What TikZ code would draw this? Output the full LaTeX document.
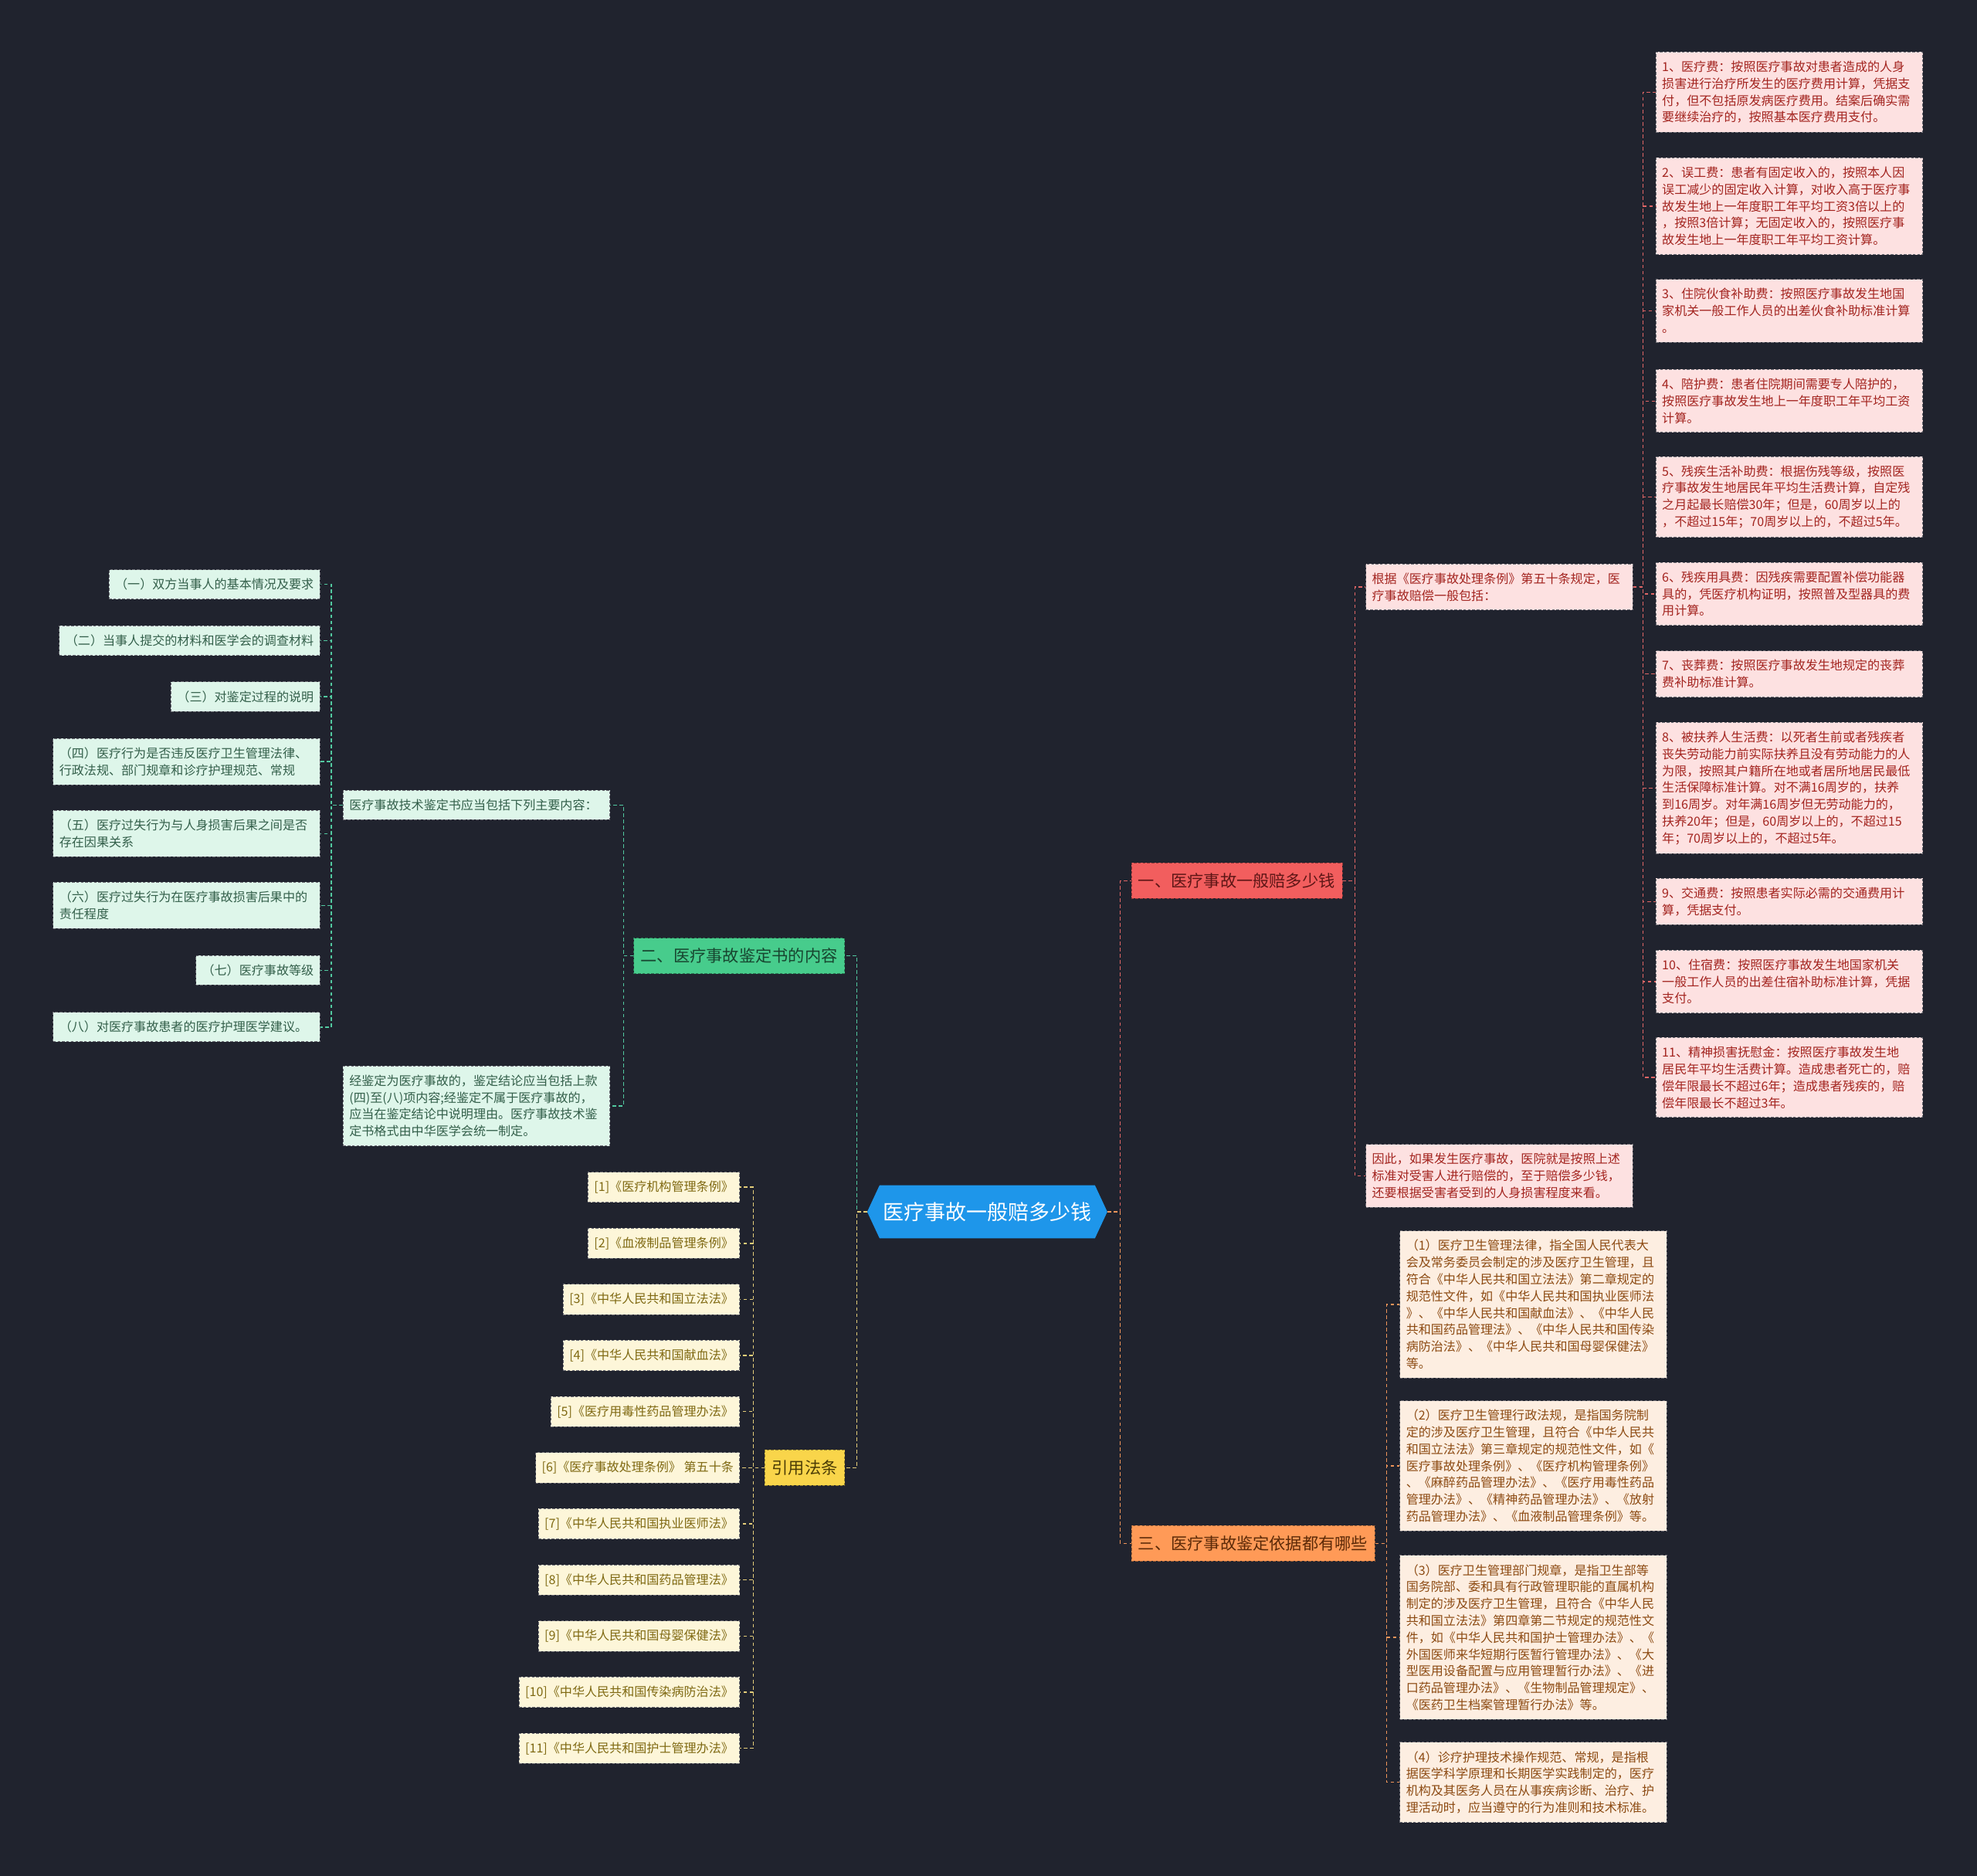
\documentclass[tikz,border=0pt]{standalone}
\usepackage{fontspec}
\setmainfont{Noto Sans CJK SC}
\usetikzlibrary{shapes.symbols}

\definecolor{bgdark}{HTML}{20232E}
\definecolor{rootblue}{HTML}{1E96EA}
\definecolor{redfill}{HTML}{F25E5E}
\definecolor{redtext}{HTML}{5E1616}
\definecolor{redline}{HTML}{E06666}
\definecolor{redleaf}{HTML}{FDE1E1}
\definecolor{redleaftext}{HTML}{A3241F}
\definecolor{orangefill}{HTML}{FF9A57}
\definecolor{orangetext}{HTML}{5C2A08}
\definecolor{orangeline}{HTML}{F0955A}
\definecolor{orangeleaf}{HTML}{FDEEE1}
\definecolor{orangeleaftext}{HTML}{8C4A12}
\definecolor{greenfill}{HTML}{47CC8C}
\definecolor{greentext}{HTML}{17452F}
\definecolor{greenline}{HTML}{52C9A0}
\definecolor{greenleaf}{HTML}{DEF6EA}
\definecolor{greenleaftext}{HTML}{335F4A}
\definecolor{yellowfill}{HTML}{F9D54A}
\definecolor{yellowtext}{HTML}{4A3B05}
\definecolor{yellowline}{HTML}{E5CE7A}
\definecolor{yellowleaf}{HTML}{FDF6D9}
\definecolor{yellowleaftext}{HTML}{7F6912}
\definecolor{leafborder}{HTML}{6A6A72}

\begin{document}
\begin{tikzpicture}[
    x=0.05cm, y=-0.05cm,
    root/.style={
        signal,
        signal to=east and west,
        signal pointer angle=130,
        fill=rootblue,
        text=white,
        font=\fontsize{23.5}{28}\selectfont,
        minimum height=60pt,
        inner xsep=4pt
    },
    branch/.style={
        dashed,
        dash pattern=on 3pt off 2pt,
        font=\fontsize{18.5}{22}\selectfont,
        minimum height=40pt,
        inner xsep=8pt
    },
    leaf/.style={
        draw=leafborder,
        dashed,
        dash pattern=on 3pt off 2pt,
        line width=0.8pt,
        font=\fontsize{14}{19}\selectfont,
        align=left,
        inner xsep=7pt,
        inner ysep=10pt
    },
    wide/.style={text width=287pt},
    redbranch/.style={branch, fill=redfill, text=redtext, draw=redfill!60!black},
    orangebranch/.style={branch, fill=orangefill, text=orangetext, draw=orangefill!60!black},
    greenbranch/.style={branch, fill=greenfill, text=greentext, draw=greenfill!60!black},
    yellowbranch/.style={branch, fill=yellowfill, text=yellowtext, draw=yellowfill!60!black},
    redleafbox/.style={leaf, fill=redleaf, text=redleaftext},
    orangeleafbox/.style={leaf, fill=orangeleaf, text=orangeleaftext},
    greenleafbox/.style={leaf, fill=greenleaf, text=greenleaftext},
    yellowleafbox/.style={leaf, fill=yellowleaf, text=yellowleaftext},
    link/.style={dashed, dash pattern=on 4pt off 3pt, line width=1.2pt}
]

\fill[bgdark] (0,0) rectangle (1568,1487.75);
\useasboundingbox (0,0) rectangle (1568,1487.75);

% centre and main branches
\node[root] (root) at (783,961) {医疗事故一般赔多少钱};

\node[redbranch, anchor=west] (sec1) at (897,698.5) {一、医疗事故一般赔多少钱};
\node[orangebranch, anchor=west] (sec3) at (897,1224) {三、医疗事故鉴定依据都有哪些};
\node[greenbranch, anchor=east] (sec2) at (670,758) {二、医疗事故鉴定书的内容};
\node[yellowbranch, anchor=east] (cite) at (670,1164) {引用法条};

% branch one
\node[redleafbox, wide, anchor=west] (comp) at (1083,465.5)
{根据《医疗事故处理条例》第五十条规定，医\\疗事故赔偿一般包括：};
\node[redleafbox, wide, anchor=west] (conclude) at (1083,932.5)
{因此，如果发生医疗事故，医院就是按照上述\\标准对受害人进行赔偿的，至于赔偿多少钱，\\还要根据受害者受到的人身损害程度来看。};

\node[redleafbox, wide, anchor=west] (fee1) at (1313,73)
{1、医疗费：按照医疗事故对患者造成的人身\\损害进行治疗所发生的医疗费用计算，凭据支\\付，但不包括原发病医疗费用。结案后确实需\\要继续治疗的，按照基本医疗费用支付。};
\node[redleafbox, wide, anchor=west] (fee2) at (1313,163.5)
{2、误工费：患者有固定收入的，按照本人因\\误工减少的固定收入计算，对收入高于医疗事\\故发生地上一年度职工年平均工资3倍以上的\\，按照3倍计算；无固定收入的，按照医疗事\\故发生地上一年度职工年平均工资计算。};
\node[redleafbox, wide, anchor=west] (fee3) at (1313,246.5)
{3、住院伙食补助费：按照医疗事故发生地国\\家机关一般工作人员的出差伙食补助标准计算\\。};
\node[redleafbox, wide, anchor=west] (fee4) at (1313,318)
{4、陪护费：患者住院期间需要专人陪护的，\\按照医疗事故发生地上一年度职工年平均工资\\计算。};
\node[redleafbox, wide, anchor=west] (fee5) at (1313,394)
{5、残疾生活补助费：根据伤残等级，按照医\\疗事故发生地居民年平均生活费计算，自定残\\之月起最长赔偿30年；但是，60周岁以上的\\，不超过15年；70周岁以上的，不超过5年。};
\node[redleafbox, wide, anchor=west] (fee6) at (1313,471)
{6、残疾用具费：因残疾需要配置补偿功能器\\具的，凭医疗机构证明，按照普及型器具的费\\用计算。};
\node[redleafbox, wide, anchor=west] (fee7) at (1313,534.5)
{7、丧葬费：按照医疗事故发生地规定的丧葬\\费补助标准计算。};
\node[redleafbox, wide, anchor=west] (fee8) at (1313,625)
{8、被扶养人生活费：以死者生前或者残疾者\\丧失劳动能力前实际扶养且没有劳动能力的人\\为限，按照其户籍所在地或者居所地居民最低\\生活保障标准计算。对不满16周岁的，扶养\\到16周岁。对年满16周岁但无劳动能力的，\\扶养20年；但是，60周岁以上的，不超过15\\年；70周岁以上的，不超过5年。};
\node[redleafbox, wide, anchor=west] (fee9) at (1313,715)
{9、交通费：按照患者实际必需的交通费用计\\算，凭据支付。};
\node[redleafbox, wide, anchor=west] (fee10) at (1313,778.5)
{10、住宿费：按照医疗事故发生地国家机关\\一般工作人员的出差住宿补助标准计算，凭据\\支付。};
\node[redleafbox, wide, anchor=west] (fee11) at (1313,854.5)
{11、精神损害抚慰金：按照医疗事故发生地\\居民年平均生活费计算。造成患者死亡的，赔\\偿年限最长不超过6年；造成患者残疾的，赔\\偿年限最长不超过3年。};

% branch three
\node[orangeleafbox, wide, anchor=west] (basis1) at (1110,1034.5)
{（1）医疗卫生管理法律，指全国人民代表大\\会及常务委员会制定的涉及医疗卫生管理，且\\符合《中华人民共和国立法法》第二章规定的\\规范性文件，如《中华人民共和国执业医师法\\》、《中华人民共和国献血法》、《中华人民\\共和国药品管理法》、《中华人民共和国传染\\病防治法》、《中华人民共和国母婴保健法》\\等。};
\node[orangeleafbox, wide, anchor=west] (basis2) at (1110,1162.5)
{（2）医疗卫生管理行政法规，是指国务院制\\定的涉及医疗卫生管理，且符合《中华人民共\\和国立法法》第三章规定的规范性文件，如《\\医疗事故处理条例》、《医疗机构管理条例》\\、《麻醉药品管理办法》、《医疗用毒性药品\\管理办法》、《精神药品管理办法》、《放射\\药品管理办法》、《血液制品管理条例》等。};
\node[orangeleafbox, wide, anchor=west] (basis3) at (1110,1298.5)
{（3）医疗卫生管理部门规章，是指卫生部等\\国务院部、委和具有行政管理职能的直属机构\\制定的涉及医疗卫生管理，且符合《中华人民\\共和国立法法》第四章第二节规定的规范性文\\件，如《中华人民共和国护士管理办法》、《\\外国医师来华短期行医暂行管理办法》、《大\\型医用设备配置与应用管理暂行办法》、《进\\口药品管理办法》、《生物制品管理规定》、\\《医药卫生档案管理暂行办法》等。};
\node[orangeleafbox, wide, anchor=west] (basis4) at (1110,1413.5)
{（4）诊疗护理技术操作规范、常规，是指根\\据医学科学原理和长期医学实践制定的，医疗\\机构及其医务人员在从事疾病诊断、治疗、护\\理活动时，应当遵守的行为准则和技术标准。};

% branch two
\node[greenleafbox, wide, anchor=east] (content) at (484,638.5)
{医疗事故技术鉴定书应当包括下列主要内容：};
\node[greenleafbox, wide, anchor=east] (verdict) at (484,877)
{经鉴定为医疗事故的，鉴定结论应当包括上款\\(四)至(八)项内容;经鉴定不属于医疗事故的，\\应当在鉴定结论中说明理由。医疗事故技术鉴\\定书格式由中华医学会统一制定。};

\node[greenleafbox, anchor=east] (item1) at (254,463.5) {（一）双方当事人的基本情况及要求};
\node[greenleafbox, anchor=east] (item2) at (254,508) {（二）当事人提交的材料和医学会的调查材料};
\node[greenleafbox, anchor=east] (item3) at (254,552.5) {（三）对鉴定过程的说明};
\node[greenleafbox, wide, anchor=east] (item4) at (254,604)
{（四）医疗行为是否违反医疗卫生管理法律、\\行政法规、部门规章和诊疗护理规范、常规};
\node[greenleafbox, wide, anchor=east] (item5) at (254,661)
{（五）医疗过失行为与人身损害后果之间是否\\存在因果关系};
\node[greenleafbox, wide, anchor=east] (item6) at (254,718)
{（六）医疗过失行为在医疗事故损害后果中的\\责任程度};
\node[greenleafbox, anchor=east] (item7) at (254,769.5) {（七）医疗事故等级};
\node[greenleafbox, wide, anchor=east] (item8) at (254,814.5) {（八）对医疗事故患者的医疗护理医学建议。};

% branch four
\node[yellowleafbox, anchor=east] (law1) at (587,941.5) {[1]《医疗机构管理条例》};
\node[yellowleafbox, anchor=east] (law2) at (587,986) {[2]《血液制品管理条例》};
\node[yellowleafbox, anchor=east] (law3) at (587,1030.5) {[3]《中华人民共和国立法法》};
\node[yellowleafbox, anchor=east] (law4) at (587,1075) {[4]《中华人民共和国献血法》};
\node[yellowleafbox, anchor=east] (law5) at (587,1119.5) {[5]《医疗用毒性药品管理办法》};
\node[yellowleafbox, anchor=east] (law6) at (587,1164) {[6]《医疗事故处理条例》 第五十条};
\node[yellowleafbox, anchor=east] (law7) at (587,1208.5) {[7]《中华人民共和国执业医师法》};
\node[yellowleafbox, anchor=east] (law8) at (587,1253) {[8]《中华人民共和国药品管理法》};
\node[yellowleafbox, anchor=east] (law9) at (587,1297.5) {[9]《中华人民共和国母婴保健法》};
\node[yellowleafbox, anchor=east] (law10) at (587,1342) {[10]《中华人民共和国传染病防治法》};
\node[yellowleafbox, anchor=east] (law11) at (587,1386.5) {[11]《中华人民共和国护士管理办法》};

% connectors
\draw[link, redline] (root.east) -- ++(10,0) |- (sec1.west);
\draw[link, orangeline] (root.east) -- ++(10,0) |- (sec3.west);
\draw[link, greenline] (root.west) -- ++(-8,0) |- (sec2.east);
\draw[link, yellowline] (root.west) -- ++(-8,0) |- (cite.east);

\draw[link, redline] (sec1.east) -- ++(10,0) |- (comp.west);
\draw[link, redline] (sec1.east) -- ++(10,0) |- (conclude.west);
\draw[link, redline] (comp.east) -- ++(8,0) |- (fee1.west);
\draw[link, redline] (comp.east) -- ++(8,0) |- (fee2.west);
\draw[link, redline] (comp.east) -- ++(8,0) |- (fee3.west);
\draw[link, redline] (comp.east) -- ++(8,0) |- (fee4.west);
\draw[link, redline] (comp.east) -- ++(8,0) |- (fee5.west);
\draw[link, redline] (comp.east) -- ++(8,0) |- (fee6.west);
\draw[link, redline] (comp.east) -- ++(8,0) |- (fee7.west);
\draw[link, redline] (comp.east) -- ++(8,0) |- (fee8.west);
\draw[link, redline] (comp.east) -- ++(8,0) |- (fee9.west);
\draw[link, redline] (comp.east) -- ++(8,0) |- (fee10.west);
\draw[link, redline] (comp.east) -- ++(8,0) |- (fee11.west);

\draw[link, orangeline] (sec3.east) -- ++(9,0) |- (basis1.west);
\draw[link, orangeline] (sec3.east) -- ++(9,0) |- (basis2.west);
\draw[link, orangeline] (sec3.east) -- ++(9,0) |- (basis3.west);
\draw[link, orangeline] (sec3.east) -- ++(9,0) |- (basis4.west);

\draw[link, greenline] (sec2.west) -- ++(-8,0) |- (content.east);
\draw[link, greenline] (sec2.west) -- ++(-8,0) |- (verdict.east);
\draw[link, greenline] (content.west) -- ++(-9,0) |- (item1.east);
\draw[link, greenline] (content.west) -- ++(-9,0) |- (item2.east);
\draw[link, greenline] (content.west) -- ++(-9,0) |- (item3.east);
\draw[link, greenline] (content.west) -- ++(-9,0) |- (item4.east);
\draw[link, greenline] (content.west) -- ++(-9,0) |- (item5.east);
\draw[link, greenline] (content.west) -- ++(-9,0) |- (item6.east);
\draw[link, greenline] (content.west) -- ++(-9,0) |- (item7.east);
\draw[link, greenline] (content.west) -- ++(-9,0) |- (item8.east);

\draw[link, yellowline] (cite.west) -- ++(-9,0) |- (law1.east);
\draw[link, yellowline] (cite.west) -- ++(-9,0) |- (law2.east);
\draw[link, yellowline] (cite.west) -- ++(-9,0) |- (law3.east);
\draw[link, yellowline] (cite.west) -- ++(-9,0) |- (law4.east);
\draw[link, yellowline] (cite.west) -- ++(-9,0) |- (law5.east);
\draw[link, yellowline] (cite.west) -- ++(-9,0) |- (law6.east);
\draw[link, yellowline] (cite.west) -- ++(-9,0) |- (law7.east);
\draw[link, yellowline] (cite.west) -- ++(-9,0) |- (law8.east);
\draw[link, yellowline] (cite.west) -- ++(-9,0) |- (law9.east);
\draw[link, yellowline] (cite.west) -- ++(-9,0) |- (law10.east);
\draw[link, yellowline] (cite.west) -- ++(-9,0) |- (law11.east);

\end{tikzpicture}
\end{document}
